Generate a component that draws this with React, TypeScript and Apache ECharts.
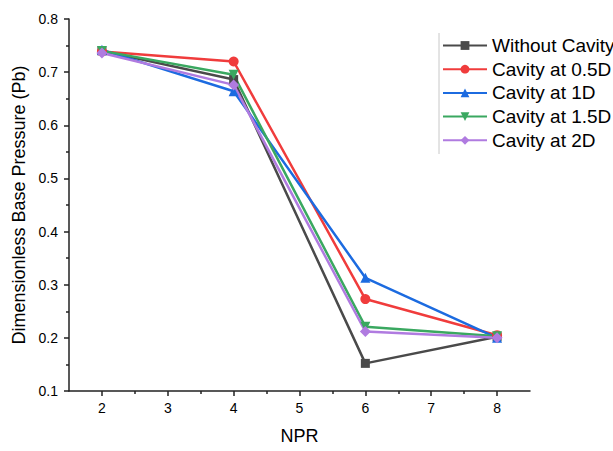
import React, { useEffect, useRef } from "react";
import * as echarts from "echarts";

const npr = [2, 4, 6, 8];
const seriesNames = ["Without Cavity", "Cavity at 0.5D", "Cavity at 1D", "Cavity at 1.5D", "Cavity at 2D"];
const withoutCavity = [0.74, 0.686, 0.152, 0.202];
const cavity05 = [0.739, 0.72, 0.273, 0.205];
const cavity1 = [0.742, 0.664, 0.313, 0.2];
const cavity15 = [0.74, 0.695, 0.221, 0.203];
const cavity2 = [0.736, 0.676, 0.212, 0.2];
const xMajor = [2, 3, 4, 5, 6, 7, 8];
const xMinor = [2.5, 3.5, 4.5, 5.5, 6.5, 7.5];

const colors = ["#4a4a4a", "#f03c3c", "#1c6be0", "#3aa860", "#b07be0"];
const symbols = ["rect", "circle", "triangle", "path://M0,0 L10,0 L5,10 Z", "diamond"];
const symbolSizes = [9, 10, 10, 10, 11];
const allData = [withoutCavity, cavity05, cavity1, cavity15, cavity2];

const FONT = "Liberation Sans, Arial, sans-serif";

export default function App() {
  const ref = useRef<HTMLDivElement>(null);
  useEffect(() => {
    if (!ref.current) return;
    const chart = echarts.init(ref.current, undefined, { renderer: "svg" });
    const axisColor = "#222";
    chart.setOption({
      animation: false,
      backgroundColor: "#fff",
      grid: { left: 69, top: 19, right: 83, bottom: 60 },
      legend: {
        orient: "vertical",
        left: 442,
        top: 36,
        padding: 0,
        itemWidth: 44,
        itemHeight: 11,
        itemGap: 4.7,
        textStyle: { fontFamily: FONT, fontSize: 19, lineHeight: 19, color: "#000", padding: [0, 0, 0, 0] },
        data: seriesNames,
      },
      xAxis: [
        {
          type: "value",
          min: 1.5,
          max: 8.5,
          name: "NPR",
          nameLocation: "middle",
          nameGap: 36,
          nameTextStyle: { fontFamily: FONT, fontSize: 18, color: "#000" },
          axisLine: { show: true, lineStyle: { color: axisColor, width: 1.5 } },
          axisTick: { show: true, customValues: xMajor, length: 5, lineStyle: { color: axisColor, width: 1.5 } },
          axisLabel: { customValues: xMajor, margin: 10, fontFamily: FONT, fontSize: 14, color: "#000" },
          splitLine: { show: false },
        },
        {
          type: "value",
          min: 1.5,
          max: 8.5,
          position: "bottom",
          axisLine: { show: false },
          axisTick: { show: true, customValues: xMinor, length: 3, lineStyle: { color: axisColor, width: 1.5 } },
          axisLabel: { show: false },
          splitLine: { show: false },
        },
      ],
      yAxis: {
        type: "value",
        min: 0.1,
        max: 0.8,
        interval: 0.1,
        name: "Dimensionless Base Pressure (Pb)",
        nameLocation: "middle",
        nameGap: 41,
        nameTextStyle: { fontFamily: FONT, fontSize: 18, color: "#000" },
        axisLine: { show: true, lineStyle: { color: axisColor, width: 1.5 } },
        axisTick: { show: true, length: 5, lineStyle: { color: axisColor, width: 1.5 } },
        minorTick: { show: true, splitNumber: 2, length: 3, lineStyle: { color: axisColor, width: 1.5 } },
        axisLabel: {
          margin: 11,
          fontFamily: FONT,
          fontSize: 14,
          color: "#000",
          formatter: (v: number) => v.toFixed(1),
        },
        splitLine: { show: false },
      },
      graphic: [
        {
          type: "line",
          shape: { x1: 439, y1: 33, x2: 439, y2: 154 },
          style: { stroke: "#c8c8c8", lineWidth: 1 },
        },
      ],
      series: seriesNames.map((name, i) => ({
        name,
        type: "line",
        xAxisIndex: 0,
        data: npr.map((x, j) => [x, allData[i][j]]),
        symbol: symbols[i],
        symbolSize: symbolSizes[i],
        showAllSymbol: true,
        itemStyle: { color: colors[i] },
        lineStyle: { color: colors[i], width: 2.5 },
      })),
    });
    return () => chart.dispose();
  }, []);
  return <div ref={ref} style={{ width: 613, height: 451, position: "absolute", left: 0, top: 0 }} />;
}
